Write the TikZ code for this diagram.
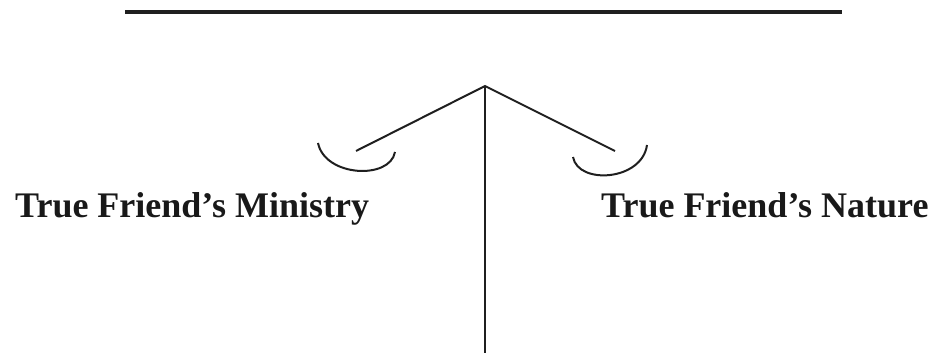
\documentclass[tikz,border=0pt]{standalone}
\usepackage{fontspec}
\setmainfont{Liberation Serif}
\begin{document}
\begin{tikzpicture}[x=1pt,y=-1pt,
  ink/.style={draw=black!88, line width=2pt},
  label/.style={anchor=base west, inner sep=0pt, font=\fontsize{36}{40}\selectfont\bfseries, text=black!90}]
\useasboundingbox (0,0) rectangle (937,358);
% top bar
\coordinate (barL) at (125,12);
\coordinate (barR) at (842,12);
\draw[ink, line width=3.5pt] (barL) -- (barR);
% balance
\coordinate (apex) at (485,86);
\coordinate (base) at (485,353);
\coordinate (armL) at (356,151);
\coordinate (armR) at (615,151);
\draw[ink] (apex) -- (base);
\draw[ink] (armL) -- (apex) -- (armR);
% pans
\coordinate (panLa) at (318,143);
\coordinate (panLb) at (395,152);
\coordinate (panRa) at (573,157);
\coordinate (panRb) at (647,145);
\draw[ink] (panLa) .. controls (325,177) and (390,180) .. (panLb);
\draw[ink] (panRa) .. controls (578,185) and (642,181) .. (panRb);
% labels
\node[label] (ministry) at (15,218) {True Friend’s Ministry};
\node[label] (nature) at (601,218) {True Friend’s Nature};
\end{tikzpicture}
\end{document}
